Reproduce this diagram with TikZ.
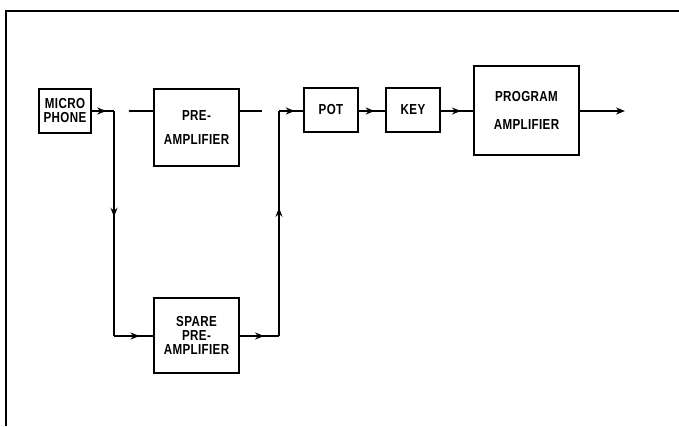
\documentclass[tikz,border=0pt]{standalone}
\usepackage{fontspec}
\newfontfamily\lblfont{Liberation Sans}[FakeStretch=0.8,LetterSpace=2.5]
\usetikzlibrary{arrows.meta,decorations.markings}
\begin{document}
\begin{tikzpicture}[x=1pt,y=-1pt,
  line width=1.3pt,
  blk/.style={draw,line width=1.4pt,inner sep=0pt,align=center,
    font=\lblfont\bfseries\fontsize{14.5}{14}\selectfont},
  midarrow/.style={postaction={decorate},decoration={markings,
    mark=at position #1 with {\arrow{Stealth[length=9pt,width=7pt]}}}},
  endarrow/.style={-{Stealth[length=9pt,width=7pt]}}
]
\useasboundingbox (0,0) rectangle (679,426);
\draw[line width=1.6pt] (6,426) -- (6,11) -- (679,11);

\node[blk,minimum width=52pt,minimum height=44pt] (micro) at (65,111) {MICRO\\PHONE};
\node[blk,minimum width=85pt,minimum height=77pt] (pre) at (196.5,127.5) {PRE-\\[10pt]AMPLIFIER};
\node[blk,minimum width=54pt,minimum height=44pt] (pot) at (331,110) {POT};
\node[blk,minimum width=54pt,minimum height=44pt] (key) at (413,110) {KEY};
\node[blk,minimum width=105pt,minimum height=89pt] (prog) at (526.5,110.5) {PROGRAM\\[14pt]AMPLIFIER};
\node[blk,minimum width=85pt,minimum height=75pt] (spare) at (196.5,335.5) {SPARE\\PRE-\\AMPLIFIER};

\coordinate (j1) at (114,111);
\coordinate (j2) at (114,336);
\coordinate (j3) at (279,336);
\coordinate (j4) at (279,111);
\coordinate (p1) at (130,111);
\coordinate (p2) at (262,111);
\coordinate (out) at (625,111);

\draw[midarrow=0.65] (micro.east |- j1) -- (j1);
\draw[midarrow=0.47] (j1) -- (j2);
\draw[midarrow=0.65] (j2) -- (j2 -| spare.west);
\draw (p1) -- (p1 -| pre.west);
\fill (p1) circle (1.4pt);
\draw (p2 -| pre.east) -- (p2);
\draw[midarrow=0.62] (j3 -| spare.east) -- (j3);
\draw[midarrow=0.57] (j3) -- (j4);
\draw[midarrow=0.65] (j4) -- (j4 -| pot.west);
\draw[midarrow=0.6] (pot.east |- j4) -- (key.west |- j4);
\draw[midarrow=0.62] (key.east |- j4) -- (prog.west |- j4);
\draw[endarrow] (prog.east |- out) -- (out);
\end{tikzpicture}
\end{document}
